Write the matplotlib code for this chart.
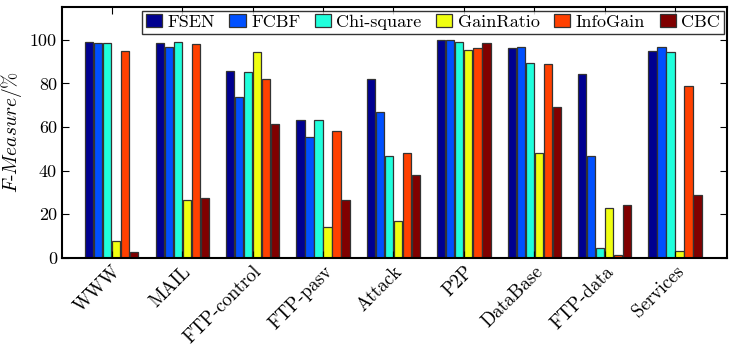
import numpy as np
import matplotlib
matplotlib.use('Agg')
import matplotlib.pyplot as plt

plt.rcParams['font.family'] = ['cmr10', 'DejaVu Serif']
plt.rcParams['mathtext.fontset'] = 'cm'
plt.rcParams['axes.unicode_minus'] = False

categories = ['WWW', 'MAIL', 'FTP-control', 'FTP-pasv', 'Attack', 'P2P',
              'DataBase', 'FTP-data', 'Services']
methods = ['FSEN', 'FCBF', 'Chi-square', 'GainRatio', 'InfoGain', 'CBC']

fsen = [99.2, 98.5, 85.6, 63.0, 81.8, 99.7, 96.3, 84.1, 95.1]
fcbf = [98.5, 96.5, 73.9, 55.6, 66.8, 100.0, 96.8, 46.5, 96.8]
chisq = [98.5, 98.8, 85.2, 63.0, 46.5, 98.8, 89.4, 4.4, 94.2]
gainratio = [7.5, 26.3, 94.2, 13.9, 17.0, 95.4, 47.9, 22.9, 3.0]
infogain = [95.1, 98.0, 82.0, 58.3, 47.9, 96.3, 89.0, 1.2, 78.6]
cbc = [2.6, 27.2, 61.6, 26.3, 38.1, 98.6, 69.4, 24.3, 29.0]

series = [fsen, fcbf, chisq, gainratio, infogain, cbc]
colors = ['#000090', '#0050ff', '#20ffdc', '#f0ff10', '#ff4000', '#800000']

fig, ax = plt.subplots(figsize=(7.36, 3.57), dpi=100)
fig.subplots_adjust(left=0.084, right=0.988, top=0.98, bottom=0.278)

x = np.arange(len(categories))
w = 0.128
for i, (vals, col, name) in enumerate(zip(series, colors, methods)):
    ax.bar(x + (i - 2.5) * w, vals, w * 0.92, color=col, edgecolor='#333333',
           linewidth=0.9, label=name)

ax.set_xlim(-0.71, 8.74)
ax.set_ylim(0, 115)
ax.set_yticks([0, 20, 40, 60, 80, 100])
ax.set_yticklabels(['0', '20', '40', '60', '80', '100'], fontsize=13)
ax.set_xticks(x)
ax.set_xticklabels(categories, rotation=45, ha='right', rotation_mode='anchor',
                   fontsize=13.5)
ax.set_ylabel(r'$F$-$Measure$/%', fontsize=14)
ax.tick_params(direction='in', top=True, right=True, length=5, width=0.8)
for s in ax.spines.values():
    s.set_linewidth(1.5)

leg = ax.legend(loc='upper right', ncol=6, fontsize=13, frameon=True,
                fancybox=False, edgecolor='black', borderpad=0.2,
                handlelength=0.9, handletextpad=0.3, columnspacing=0.8,
                borderaxespad=0.2)
leg.get_frame().set_linewidth(1.0)

fig.savefig('out.png', dpi=100)
